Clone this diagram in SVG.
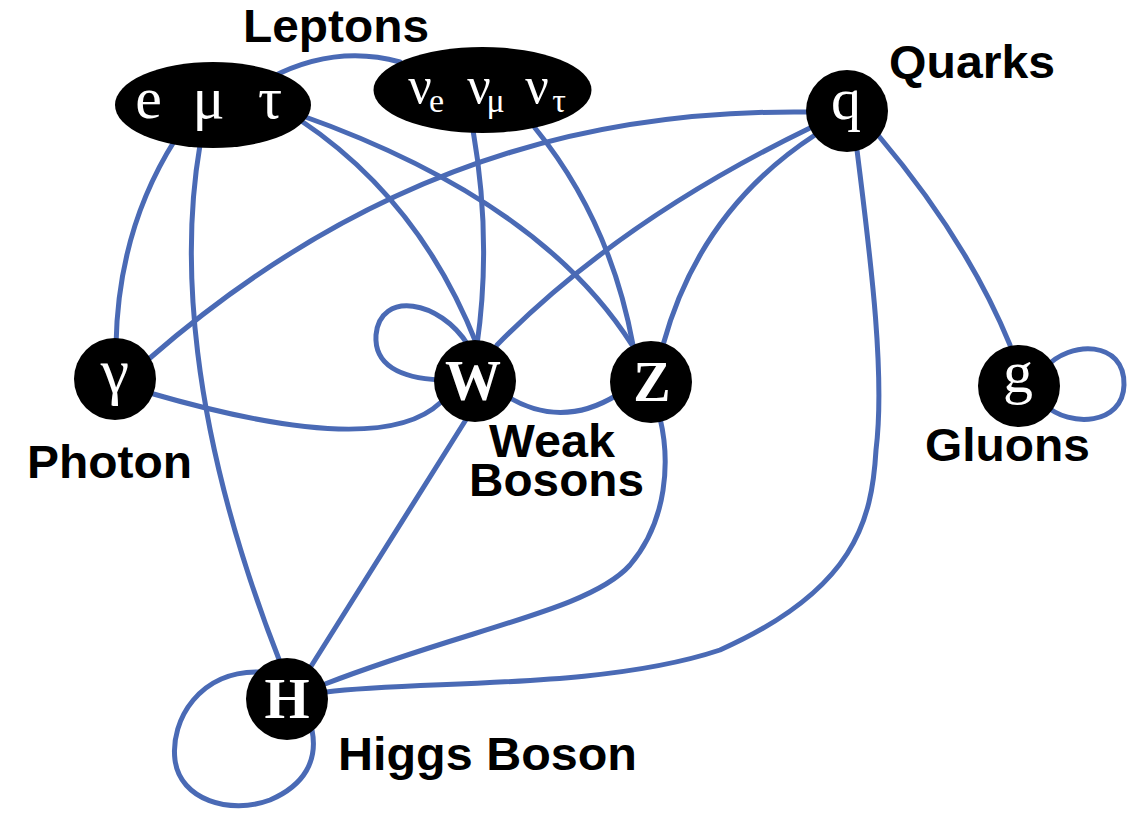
<svg xmlns="http://www.w3.org/2000/svg" width="1132" height="819" viewBox="0 0 1132 819">
<style>
.e{fill:none;stroke:#4a6ab5;stroke-width:5;stroke-linecap:round}
.n{fill:#000}
.s{font-family:"Liberation Serif","Times New Roman",serif;fill:#fff;text-anchor:middle}
.b{font-weight:bold}
.lab{font-family:"Liberation Sans",Arial,sans-serif;font-weight:bold;font-size:46px;fill:#000}
</style>
<rect width="1132" height="819" fill="#fff"/>
<g id="connectors">
<path class="e" d="M 270 78 Q 335 44 400 62"/>
<path class="e" d="M 175 140 Q 118 230 116 345"/>
<path class="e" d="M 200 145 C 182 250, 185 420, 280 662"/>
<path class="e" d="M 300 120 Q 420 200 477 345"/>
<path class="e" d="M 300 115 Q 540 200 632 345"/>
<path class="e" d="M 473 130 Q 492 240 477 345"/>
<path class="e" d="M 535 128 Q 610 220 633 345"/>
<path class="e" d="M 808 112 C 640 110, 400 140, 150 358"/>
<path class="e" d="M 810 128 Q 620 220 497 345"/>
<path class="e" d="M 815 135 Q 700 210 663 345"/>
<path class="e" d="M 878 135 Q 967 240 1010 345"/>
<path class="e" d="M 857 150 C 868 240, 886 370, 876 450 C 872 520, 855 590, 720 650 C 600 690, 420 680, 326 692"/>
<path class="e" d="M 1045 368 C 1070 340, 1125 340, 1124 385 C 1123 425, 1070 428, 1045 405"/>
<path class="e" d="M 468 345 C 440 300, 380 290, 376 335 C 374 365, 400 378, 440 380"/>
<path class="e" d="M 150 393 C 260 425, 390 450, 440 403"/>
<path class="e" d="M 505 395 Q 560 430 617 395"/>
<path class="e" d="M 467 418 L 310 668"/>
<path class="e" d="M 660 418 C 670 460, 668 520, 630 565 C 590 610, 470 628, 325 684"/>
<path class="e" d="M 260 672 C 200 670, 170 720, 175 760 C 180 800, 230 815, 270 800 C 305 785, 318 760, 312 730"/>
</g>
<g id="leptons-charged">
<ellipse class="n" cx="213" cy="105" rx="98" ry="43"/>
<text class="s" font-size="60" y="118"><tspan x="156">e</tspan> <tspan x="216">μ</tspan> <tspan x="270">τ</tspan></text>
</g>
<g id="leptons-neutrinos">
<ellipse class="n" cx="482.5" cy="90" rx="109" ry="43"/>
<text class="s" font-size="52" y="103"><tspan x="420">ν</tspan><tspan x="443" y="112" font-size="34">e</tspan> <tspan x="479" y="103">ν</tspan><tspan x="502" y="112" font-size="34">μ</tspan> <tspan x="537" y="103">ν</tspan><tspan x="559" y="112" font-size="34">τ</tspan></text>
</g>
<g id="quark">
<circle class="n" cx="847" cy="111" r="41"/>
<text class="s" font-size="60" x="846" y="119">q</text>
</g>
<g id="photon">
<circle class="n" cx="115" cy="379" r="41"/>
<text class="s" font-size="64" x="115" y="392">γ</text>
</g>
<g id="w-boson">
<circle class="n" cx="475" cy="381" r="41"/>
<text class="s b" font-size="56" x="473" y="400">W</text>
</g>
<g id="z-boson">
<circle class="n" cx="651" cy="382" r="41"/>
<text class="s b" font-size="56" x="652" y="401">Z</text>
</g>
<g id="gluon">
<circle class="n" cx="1019" cy="386" r="41"/>
<text class="s" font-size="60" x="1018" y="392">g</text>
</g>
<g id="higgs">
<circle class="n" cx="287" cy="699" r="41"/>
<text class="s b" font-size="58" x="287" y="718">H</text>
</g>
<g id="labels">
<text class="lab" x="243" y="42" textLength="186" lengthAdjust="spacingAndGlyphs">Leptons</text>
<text class="lab" x="889" y="78" textLength="166" lengthAdjust="spacingAndGlyphs">Quarks</text>
<text class="lab" x="27" y="478" textLength="165" lengthAdjust="spacingAndGlyphs">Photon</text>
<text class="lab" x="489" y="457" textLength="126" lengthAdjust="spacingAndGlyphs">Weak</text>
<text class="lab" x="469" y="496" textLength="175" lengthAdjust="spacingAndGlyphs">Bosons</text>
<text class="lab" x="925" y="461" textLength="165" lengthAdjust="spacingAndGlyphs">Gluons</text>
<text class="lab" x="338" y="770" textLength="299" lengthAdjust="spacingAndGlyphs">Higgs Boson</text>
</g>
</svg>
